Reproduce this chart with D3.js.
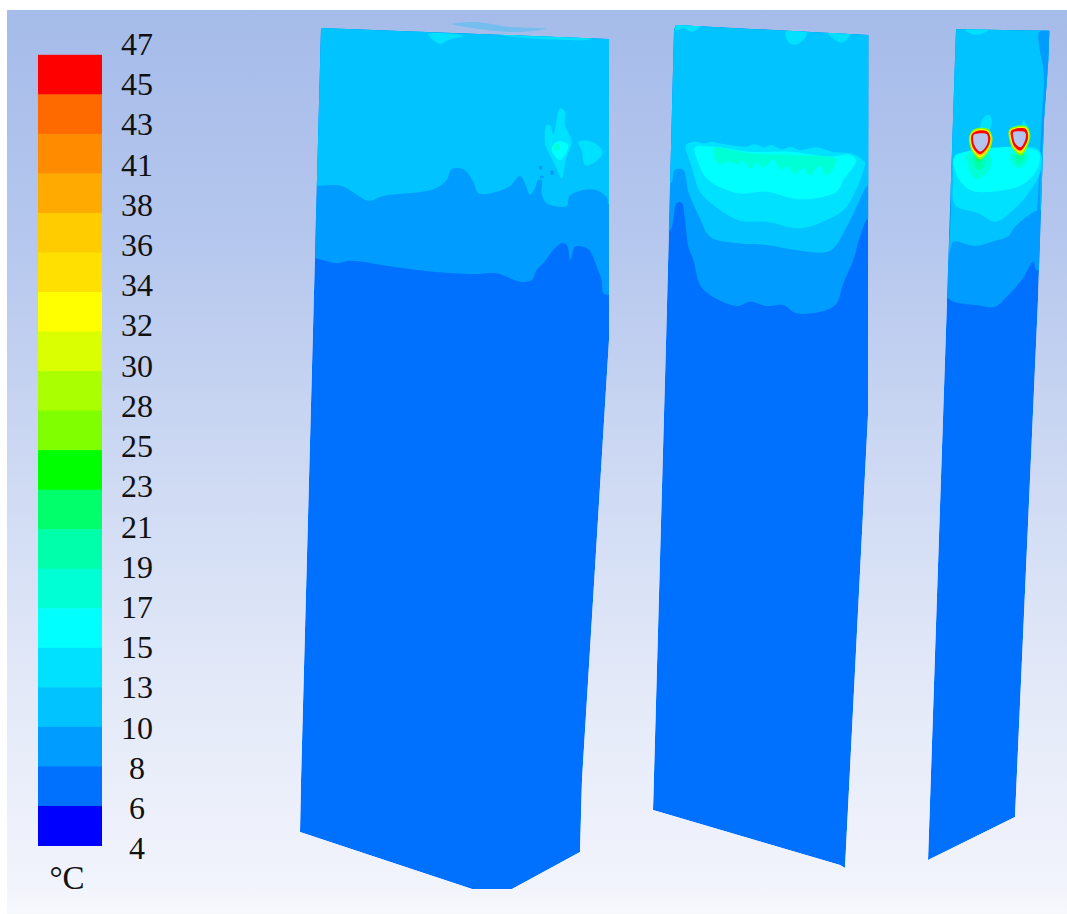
<!DOCTYPE html>
<html><head><meta charset="utf-8">
<script src="https://cdn.jsdelivr.net/npm/d3@7"></script>
<style>html,body{margin:0;padding:0;background:#fff;overflow:hidden}svg{display:block}</style>
</head><body><svg id="c" width="1067" height="914"></svg>
<script>
// ---------- legend data ----------
const tickLabels = ["47","45","43","41","38","36","34","32","30","28","25","23","21","19","17","15","13","10","8","6","4"];
const bandColors = ["#ff0000","#ff6a00","#ff8c00","#ffaa00","#ffcc00","#ffe000","#ffff00","#d9ff00","#aaff00","#80ff00","#00ff00","#00ff6a","#00ffaa","#00ffd5","#00ffff","#00e1ff","#00c3ff","#009cff","#0070ff","#0000ff"];
const unitLabel = "°C";
// level = index counted from coldest band
const L = i => bandColors[bandColors.length - 1 - i];

// ---------- contour outlines (in sampling units of each panel) ----------
const outline1 = [[63,54],[927,87],[927,990],[846,2310],[840,2526],[636,2637],[516,2637],[0,2466],[3,2310]];
const p1_level2 = [[0,745],[45,745],[110,760],[150,752],[290,772],[400,785],[520,792],[590,790],[660,815],[695,810],[710,780],[730,760],[760,720],[785,700],[800,705],[812,750],[825,710],[865,718],[890,770],[905,810],[910,850],[925,855],[960,855],[960,0],[0,0]];
const p1_level3 = [[0,528],[50,528],[125,528],[205,572],[250,558],[400,538],[440,510],[455,478],[490,478],[520,515],[535,550],[590,545],[630,528],[660,498],[675,520],[690,555],[705,535],[715,510],[725,510],[725,550],[735,575],[750,585],[800,588],[807,560],[820,550],[865,538],[900,545],[922,565],[925,582],[960,582],[960,0],[0,0]];
const p1_patchA = [[780,295],[795,305],[795,345],[815,395],[800,440],[785,505],[770,475],[745,425],[735,400],[740,345],[750,345],[760,375]];
const p1_patchB = [[835,395],[875,395],[908,425],[880,460],[855,465],[845,420]];
const p1_patchTop = [[385,72],[490,78],[445,90],[420,103],[400,90]];
const p1_strip = [[63,54],[200,58],[400,66],[560,70],[650,82],[870,88],[870,84],[650,76],[560,68],[400,60],[200,54]];
const p1_core = [[770,395],[805,405],[780,450],[755,420]];
const p1_core2 = [[762,405],[778,405],[775,422],[765,420]];
const p1_specks = [[[718,468],[726,468],[726,478],[718,478]],[[720,498],[730,498],[730,504],[720,504]],[[752,482],[760,482],[760,494],[752,494]]];
const p1_smear = [[455,42],[525,36],[625,50],[740,56],[650,66],[560,60],[480,48]];

const outline2 = [[78,45],[655,75],[654,1215],[585,2574],[570,2565],[9,2400],[49,960],[72,60]];
const p2_level2 = [[0,665],[58,665],[80,580],[95,578],[105,630],[115,710],[130,750],[150,825],[180,855],[260,888],[300,875],[350,888],[400,885],[440,910],[530,900],[560,880],[580,820],[610,750],[630,680],[655,625],[680,625],[680,0],[0,0]];
const p2_level3 = [[0,520],[62,520],[75,480],[100,480],[115,545],[150,625],[180,680],[265,700],[350,705],[450,722],[540,722],[590,650],[620,590],[655,525],[680,525],[680,0],[0,0]];
const p2_level4 = [[108,405],[135,395],[160,400],[185,395],[220,402],[260,408],[290,410],[315,403],[340,412],[365,405],[395,418],[420,410],[450,420],[500,412],[545,425],[610,432],[640,452],[645,458],[590,590],[530,630],[450,655],[350,635],[270,632],[190,585],[150,545],[125,470]];
const p2_level5 = [[135,412],[190,410],[300,425],[420,425],[540,440],[600,435],[618,452],[580,510],[560,545],[450,568],[350,545],[265,550],[175,510],[150,470]];
const p2_level6 = [[190,415],[300,430],[430,435],[560,447],[555,465],[530,497],[510,468],[480,497],[460,475],[435,492],[410,470],[390,480],[370,450],[340,472],[320,460],[300,475],[280,452],[260,465],[240,455],[205,462]];
const p2_patchTop1 = [[408,65],[470,68],[455,95],[430,104],[412,92]];
const p2_patchTop2 = [[535,70],[600,75],[575,98],[552,88]];
const p2_patchTop3 = [[78,45],[155,47],[125,65],[100,55],[78,62]];

const outline3 = [[108,58],[388,62],[385,150],[372,330],[354,870],[285,2421],[24,2550],[81,870]];
const p3_level2 = [[0,860],[75,860],[100,875],[165,885],[225,890],[260,860],[305,810],[340,755],[350,780],[400,780],[400,0],[0,0]];
const p3_level3 = [[88,730],[100,695],[165,708],[215,695],[265,678],[285,650],[355,600],[400,600],[400,0],[95,0],[93,600]];
const p3_level4 = [[105,435],[145,427],[175,420],[235,420],[350,415],[365,440],[360,490],[325,550],[290,590],[225,635],[175,610],[105,585],[100,510]];
const p3_level5 = [[105,440],[355,425],[350,480],[305,525],[215,545],[150,540],[110,495]];
const p3_plumeA = [[140,435],[210,435],[215,460],[190,500],[165,505],[145,470]];
const p3_plumeAin = [[160,440],[190,440],[190,470],[175,480],[165,470]];
const p3_plumeAcore = [[168,440],[182,440],[180,455],[172,455]];
const p3_plumeB = [[270,435],[325,430],[320,455],[300,475],[280,465]];
const p3_plumeBin = [[285,435],[310,435],[303,460],[290,455]];
const p3_stripe = [[358,65],[388,62],[385,150],[372,330],[362,500],[352,760],[345,760],[352,600],[358,480],[365,330],[372,200]];
const p3_topPatch = [[135,60],[205,60],[185,72],[155,72]];

// hole rings (finer sampling)
const holeLeft = {
  plume:[[60,50],[72,6],[88,0],[95,12],[88,45]],
  green:[[29,60],[44,42],[84,42],[97,65],[94,92],[78,120],[60,134],[38,112],[27,80]],
  yellow:[[32,60],[46,46],[82,46],[93,65],[91,90],[76,115],[60,127],[40,108],[31,80]],
  orange:[[34,60],[47,48],[81,48],[91,65],[89,88],[75,112],[60,122],[41,105],[33,80]],
  red:[[35,60],[48,49],[80,49],[90,65],[88,86],[74,108],[60,117],[42,102],[34,80]],
  hole:[[41,60],[60,55],[80,57],[84,78],[74,100],[60,110],[46,96],[40,80]]
};
const holeRight = {
  plume:[[150,50],[165,32],[185,30],[190,15],[205,45]],
  green:[[147,45],[162,35],[201,35],[211,60],[203,93],[183,122],[159,102],[148,74]],
  yellow:[[150,47],[163,39],[199,39],[207,63],[200,90],[182,114],[161,98],[152,74]],
  orange:[[152,48],[164,41],[198,41],[205,65],[199,87],[181,110],[162,96],[154,72]],
  red:[[153,49],[164,42],[197,42],[204,65],[198,86],[181,106],[163,94],[155,72]],
  hole:[[160,52],[178,49],[195,52],[197,70],[182,97],[167,87],[161,72]]
};

// ---------- scales ----------
const svg = d3.select("#c");
const defs = svg.append("defs");
const bandY = d3.scaleBand().domain(bandColors).range([54.8,845.5]).paddingInner(0).paddingOuter(0);
const tickY = d3.scalePoint().domain(tickLabels).range([44,848.5]);
const panel = (x0,y0,k) => ({x:d3.scaleLinear().domain([0,1]).range([x0,x0+k]), y:d3.scaleLinear().domain([0,1]).range([y0,y0+k])});
const P1 = panel(300,10,1/3), P2 = panel(650,10,1/3), P3 = panel(920,10,1/3), PH = panel(960,115,1/3);

// background
const grad = defs.append("linearGradient").attr("id","bg").attr("x1",0).attr("x2",0).attr("y1",0).attr("y2",1);
[[0,"#a5bbe9"],[0.25,"#b5c7ee"],[0.5,"#cdd9f3"],[0.75,"#e3e9f8"],[0.97,"#f2f4fc"],[1,"#f7f8fc"]].forEach(s=>grad.append("stop").attr("offset",s[0]).attr("stop-color",s[1]));
svg.append("rect").attr("x",7).attr("y",10).attr("width",1060).attr("height",904).attr("fill","url(#bg)");

const blur = defs.append("filter").attr("id","soft").attr("x","-5%").attr("y","-5%").attr("width","110%").attr("height","110%");
blur.append("feGaussianBlur").attr("stdDeviation",0.6);
const blurLite = defs.append("filter").attr("id","softer").attr("x","-5%").attr("y","-5%").attr("width","110%").attr("height","110%");
blurLite.append("feGaussianBlur").attr("stdDeviation",0.35);

const straight = S => d3.line().x(d=>S.x(d[0])).y(d=>S.y(d[1])).curve(d3.curveLinearClosed);
const smooth = S => d3.line().x(d=>S.x(d[0])).y(d=>S.y(d[1])).curve(d3.curveCatmullRomClosed.alpha(0.5));

function drawPanel(id, S, outline, layers){
  const edge = straight(S), contour = smooth(S);
  defs.append("clipPath").attr("id",id).append("path").attr("d",edge(outline));
  const g = svg.append("g").attr("filter","url(#soft)").append("g").attr("clip-path",`url(#${id})`);
  g.append("path").attr("d",edge(outline)).attr("fill",L(1));
  g.selectAll("path.r").data(layers).join("path").attr("class","r")
    .attr("d",d=>contour(d.pts)).attr("fill",d=>L(d.level));
  return g;
}

// faint smear above panel 1
svg.append("path").attr("d",smooth(P1)(p1_smear)).attr("fill",L(3)).attr("opacity",0.3).attr("filter","url(#soft)");

drawPanel("p1",P1,outline1,[
  {pts:p1_level2,level:2},{pts:p1_level3,level:3},
  {pts:p1_strip,level:4},{pts:p1_patchTop,level:4},
  {pts:p1_patchA,level:4},{pts:p1_patchB,level:4},
  {pts:p1_core,level:5},{pts:p1_core2,level:6},
  ...p1_specks.map(pts=>({pts,level:2}))
]);
drawPanel("p2",P2,outline2,[
  {pts:p2_level2,level:2},{pts:p2_level3,level:3},
  {pts:p2_patchTop1,level:4},{pts:p2_patchTop2,level:4},{pts:p2_patchTop3,level:4},
  {pts:p2_level4,level:4},{pts:p2_level5,level:5},{pts:p2_level6,level:6}
]);
drawPanel("p3",P3,outline3,[
  {pts:p3_level2,level:2},{pts:p3_level3,level:3},{pts:p3_stripe,level:2},{pts:p3_topPatch,level:4},
  {pts:p3_level4,level:4},{pts:p3_level5,level:5},
  {pts:p3_plumeA,level:6},{pts:p3_plumeAin,level:7},{pts:p3_plumeAcore,level:8},
  {pts:p3_plumeB,level:6},{pts:p3_plumeBin,level:7}
]);
const hl = smooth(PH);
const gh = svg.append("g").attr("filter","url(#softer)");
[holeLeft,holeRight].forEach(h=>{
  gh.append("path").attr("d",hl(h.plume)).attr("fill",L(4));
  gh.append("path").attr("d",hl(h.green)).attr("fill",L(10));
  gh.append("path").attr("d",hl(h.yellow)).attr("fill",L(13));
  gh.append("path").attr("d",hl(h.orange)).attr("fill",L(16));
  gh.append("path").attr("d",hl(h.red)).attr("fill",L(19));
  gh.append("path").attr("d",hl(h.hole)).attr("fill","#b4c4ee");
});

// legend
svg.selectAll("rect.band").data(bandColors).join("rect").attr("class","band")
  .attr("x",38).attr("width",64).attr("y",d=>bandY(d)).attr("height",bandY.bandwidth()+0.5).attr("fill",d=>d);
svg.selectAll("text.tick").data(tickLabels).join("text").attr("class","tick")
  .attr("x",137).attr("y",d=>tickY(d)).attr("dy","0.34em").attr("text-anchor","middle")
  .attr("font-family","'Liberation Serif',serif").attr("font-size",32).attr("fill","#111").text(d=>d);
svg.append("text").attr("x",67).attr("y",889).attr("text-anchor","middle")
  .attr("font-family","'Liberation Serif',serif").attr("font-size",33).attr("fill","#111").text(unitLabel);
</script></body></html>
